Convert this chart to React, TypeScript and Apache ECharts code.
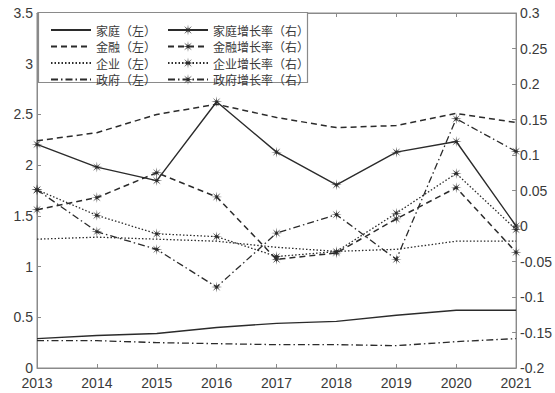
import React, { useEffect, useRef } from "react";
import * as echarts from "echarts";

const years = ["2013", "2014", "2015", "2016", "2017", "2018", "2019", "2020", "2021"];

const household = [0.29, 0.32, 0.34, 0.40, 0.44, 0.46, 0.52, 0.57, 0.57];
const finance = [2.24, 2.32, 2.50, 2.60, 2.47, 2.37, 2.39, 2.51, 2.42];
const enterprise = [1.27, 1.29, 1.27, 1.25, 1.19, 1.15, 1.17, 1.25, 1.25];
const government = [0.27, 0.27, 0.25, 0.24, 0.23, 0.23, 0.22, 0.26, 0.29];

const householdGrowth = [0.115, 0.083, 0.064, 0.175, 0.104, 0.058, 0.104, 0.119, 0.0];
const financeGrowth = [0.023, 0.04, 0.075, 0.041, -0.047, -0.038, 0.01, 0.054, -0.037];
const enterpriseGrowth = [0.051, 0.015, -0.011, -0.015, -0.043, -0.036, 0.018, 0.074, -0.005];
const governmentGrowth = [0.051, -0.008, -0.033, -0.086, -0.01, 0.016, -0.047, 0.151, 0.105];

const leftNames = ["家庭（左）", "金融（左）", "企业（左）", "政府（左）"];
const rightNames = ["家庭增长率（右）", "金融增长率（右）", "企业增长率（右）", "政府增长率（右）"];

function starPath(): string {
  const n = 8;
  const rOut = 10;
  const rIn = 2.2;
  const pts: string[] = [];
  for (let i = 0; i < n * 2; i++) {
    const r = i % 2 === 0 ? rOut : rIn;
    const a = (Math.PI * i) / n - Math.PI / 2;
    pts.push(`${(r * Math.cos(a)).toFixed(3)} ${(r * Math.sin(a)).toFixed(3)}`);
  }
  return "path://M" + pts.join(" L") + " Z";
}

const LINE = "#2b2b2b";
const AXIS = "#8a8a8a";
const TXT = "#3a3a3a";

const dashed = [6, 4];
const dotted = [1.5, 2];
const dashDot = [7, 3, 1.5, 3];

export default function App() {
  const ref = useRef<HTMLDivElement>(null);
  useEffect(() => {
    if (!ref.current) return;
    const chart = echarts.init(ref.current, null, { renderer: "svg" });
    const star = starPath();
    const leftSeries = [household, finance, enterprise, government];
    const rightSeries = [householdGrowth, financeGrowth, enterpriseGrowth, governmentGrowth];
    const types: any[] = ["solid", dashed, dotted, dashDot];
    const widths = [1.4, 1.5, 1.3, 1.3];
    const series: any[] = [];
    leftSeries.forEach((d, i) => {
      series.push({
        name: leftNames[i],
        type: "line",
        data: d,
        yAxisIndex: 0,
        symbol: "circle",
        showSymbol: false,
        lineStyle: { color: LINE, width: widths[i], type: types[i] },
        itemStyle: { color: LINE },
      });
    });
    rightSeries.forEach((d, i) => {
      series.push({
        name: rightNames[i],
        type: "line",
        data: d,
        yAxisIndex: 1,
        symbol: star,
        symbolSize: 11,
        showSymbol: true,
        lineStyle: { color: LINE, width: widths[i], type: types[i] },
        itemStyle: { color: LINE },
      });
    });
    const legendBase = {
      orient: "vertical",
      top: 18,
      itemWidth: 40,
      itemHeight: 14,
      itemGap: 2.5,
      textStyle: {
        fontFamily: "Noto Sans CJK SC",
        fontSize: 12,
        color: TXT,
        lineHeight: 14,
      },
      z: 5,
    };
    chart.setOption({
      animation: false,
      backgroundColor: "#ffffff",
      grid: {
        left: 37,
        right: 38,
        top: 13,
        bottom: 25,
        show: true,
        borderColor: AXIS,
        borderWidth: 1,
      },
      legend: [
        {
          ...legendBase,
          left: 45,
          data: leftNames.map((n) => ({ name: n, itemStyle: { opacity: 0 } })),
        },
        { ...legendBase, left: 162, data: rightNames },
      ],
      graphic: [
        {
          type: "rect",
          shape: { x: 38.5, y: 12.5, width: 269, height: 70 },
          style: { fill: "#ffffff", stroke: AXIS, lineWidth: 1.2 },
          z: 3,
        },
      ],
      xAxis: [
        {
          type: "category",
          data: years,
          boundaryGap: false,
          position: "bottom",
          axisLine: { onZero: false, lineStyle: { color: AXIS } },
          axisTick: { inside: true, length: 4, lineStyle: { color: AXIS } },
          axisLabel: {
            color: TXT,
            fontSize: 14,
            lineHeight: 14,
            fontFamily: "Liberation Sans",
            margin: 8,
          },
          splitLine: { show: false },
        },
        {
          type: "category",
          data: years,
          boundaryGap: false,
          position: "top",
          axisLine: { onZero: false, lineStyle: { color: AXIS } },
          axisTick: { inside: true, length: 4, lineStyle: { color: AXIS } },
          axisLabel: { show: false },
          splitLine: { show: false },
        },
      ],
      yAxis: [
        {
          type: "value",
          min: 0,
          max: 3.5,
          interval: 0.5,
          position: "left",
          axisLine: { show: true, lineStyle: { color: AXIS } },
          axisTick: { show: true, inside: true, length: 4, lineStyle: { color: AXIS } },
          axisLabel: {
            color: TXT,
            fontSize: 14,
            lineHeight: 14,
            fontFamily: "Liberation Sans",
            margin: 4,
          },
          splitLine: { show: false },
        },
        {
          type: "value",
          min: -0.2,
          max: 0.3,
          interval: 0.05,
          position: "right",
          axisLine: { show: true, lineStyle: { color: AXIS } },
          axisTick: { show: true, inside: true, length: 4, lineStyle: { color: AXIS } },
          axisLabel: {
            color: TXT,
            fontSize: 14,
            lineHeight: 14,
            fontFamily: "Liberation Sans",
            margin: 4,
            formatter: (v: number) => String(Math.round(v * 100) / 100),
          },
          splitLine: { show: false },
        },
      ],
      series,
    });
    return () => chart.dispose();
  }, []);
  return <div ref={ref} style={{ width: 555, height: 393, position: "absolute", left: 0, top: 0 }} />;
}
